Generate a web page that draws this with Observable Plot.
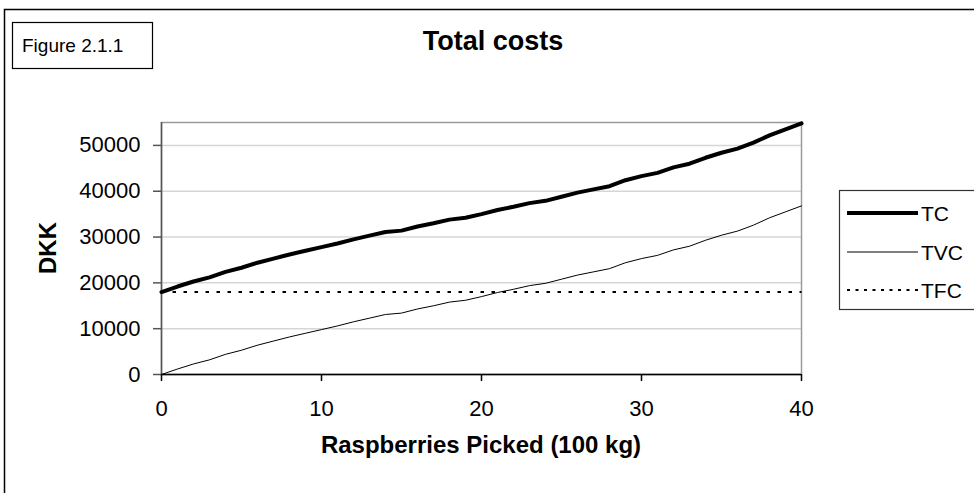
<!DOCTYPE html>
<html><head><meta charset="utf-8">
<script src="https://cdn.jsdelivr.net/npm/d3@7"></script>
<script src="https://cdn.jsdelivr.net/npm/@observablehq/plot@0.6"></script>
<style>html,body{margin:0;padding:0;background:#fff;overflow:hidden;} svg{display:block;}</style>
</head><body><div id="chart"></div>
<script>
// Quantity of raspberries picked (100 kg)
const quantity = [0,1,2,3,4,5,6,7,8,9,10,11,12,13,14,15,16,17,18,19,20,21,22,23,24,25,26,27,28,29,30,31,32,33,34,35,36,37,38,39,40];
// Total variable cost (DKK)
const tvc = [0,1200,2300,3200,4400,5300,6400,7300,8200,9000,9800,10600,11500,12300,13100,13400,14300,15000,15800,16200,17000,17900,18600,19400,19900,20800,21700,22400,23100,24400,25300,26000,27200,28000,29300,30400,31300,32600,34200,35500,36800];
// Total cost (DKK)
const tc = [18000,19200,20300,21200,22400,23300,24400,25300,26200,27000,27800,28600,29500,30300,31100,31400,32300,33000,33800,34200,35000,35900,36600,37400,37900,38800,39700,40400,41100,42400,43300,44000,45200,46000,47300,48400,49300,50600,52200,53500,54800];
// Total fixed cost (DKK)
const tfc = [18000,18000,18000,18000,18000,18000,18000,18000,18000,18000,18000,18000,18000,18000,18000,18000,18000,18000,18000,18000,18000,18000,18000,18000,18000,18000,18000,18000,18000,18000,18000,18000,18000,18000,18000,18000,18000,18000,18000,18000,18000];
const xTicks = [0,10,20,30,40];
const yTicks = [0,10000,20000,30000,40000,50000];
const seriesNames = ["TC","TVC","TFC"];
const titleText = "Total costs";
const figureText = "Figure 2.1.1";
const xLabel = "Raspberries Picked (100 kg)";
const yLabel = "DKK";

const rows = quantity.map((q, i) => ({q, tc: tc[i], tvc: tvc[i], tfc: tfc[i]}));
const font = "'Liberation Sans', Arial, sans-serif";

const W = 974, H = 493;
const chart = Plot.plot({
  width: W, height: H,
  marginLeft: 161, marginRight: 173, marginTop: 122, marginBottom: 119,
  style: {fontFamily: font, fontSize: "22px", color: "#000", background: "#fff", overflow: "visible"},
  x: {domain: [0, 40], label: null},
  y: {domain: [0, 55000], label: null},
  marks: [
    Plot.gridY(yTicks, {stroke: "#d6d6d6", strokeOpacity: 1, strokeWidth: 1.5}),
    Plot.frame({stroke: "#9a9a9a", strokeWidth: 1.5}),
    Plot.axisY(yTicks, {tickSize: 8, tickPadding: 13, tickFormat: d3.format("d"), fontSize: 22, stroke: "#555", strokeWidth: 1.5, label: null}),
    Plot.axisX(xTicks, {tickSize: 7, tickPadding: 19, tickFormat: d3.format("d"), fontSize: 22, stroke: "#000", strokeWidth: 1.5, label: null}),
    Plot.ruleX([0], {stroke: "#555", strokeWidth: 1.5}),
    Plot.ruleY([0], {stroke: "#000", strokeWidth: 1.5}),
    Plot.lineY(rows, {x: "q", y: "tfc", stroke: "#000", strokeWidth: 2, strokeDasharray: "3.5,7.5", strokeLinecap: "butt"}),
    Plot.lineY(rows, {x: "q", y: "tvc", stroke: "#000", strokeWidth: 1}),
    Plot.lineY(rows, {x: "q", y: "tc", stroke: "#000", strokeWidth: 4, strokeLinejoin: "round"})
  ]
});
document.getElementById("chart").appendChild(chart);

const svg = d3.select(chart);
// outer chart border (left and top visible)
svg.append("path").attr("d", `M4.5,${H + 5}V9.5H${W + 5}`).attr("fill", "none").attr("stroke", "#000").attr("stroke-width", 1.5);
// figure label box
svg.append("rect").attr("x", 12.5).attr("y", 22.5).attr("width", 140).attr("height", 46)
  .attr("fill", "#fff").attr("stroke", "#000").attr("stroke-width", 1.2);
svg.append("text").attr("x", 22).attr("y", 52).attr("text-anchor", "start")
  .attr("font-family", font).attr("font-size", 19).text(figureText);
// title
svg.append("text").attr("x", 493).attr("y", 50).attr("text-anchor", "middle")
  .attr("font-family", font).attr("font-size", 27).attr("font-weight", "bold").text(titleText);
// axis titles
svg.append("text").attr("x", 481).attr("y", 453).attr("text-anchor", "middle")
  .attr("font-family", font).attr("font-size", 24).attr("font-weight", "bold").text(xLabel);
svg.append("text").attr("transform", "translate(56,248) rotate(-90)").attr("text-anchor", "middle")
  .attr("font-family", font).attr("font-size", 24).attr("font-weight", "bold").text(yLabel);
// legend
const lg = svg.append("g").attr("text-anchor", "start");
lg.append("rect").attr("x", 839.5).attr("y", 190.5).attr("width", 200).attr("height", 119)
  .attr("fill", "#fff").attr("stroke", "#333").attr("stroke-width", 1.2);
const legendStyles = [
  {w: 4, dash: null, y: 213},
  {w: 1, dash: null, y: 252},
  {w: 2, dash: "3,5.5", y: 290}
];
seriesNames.forEach((name, i) => {
  const s = legendStyles[i];
  const ln = lg.append("line").attr("x1", 847).attr("x2", 918).attr("y1", s.y).attr("y2", s.y)
    .attr("stroke", "#000").attr("stroke-width", s.w);
  if (s.dash) ln.attr("stroke-dasharray", s.dash);
  lg.append("text").attr("x", 921).attr("y", s.y + 7.5).attr("text-anchor", "start")
    .attr("font-family", font).attr("font-size", 21).text(name);
});
</script>
</body></html>
